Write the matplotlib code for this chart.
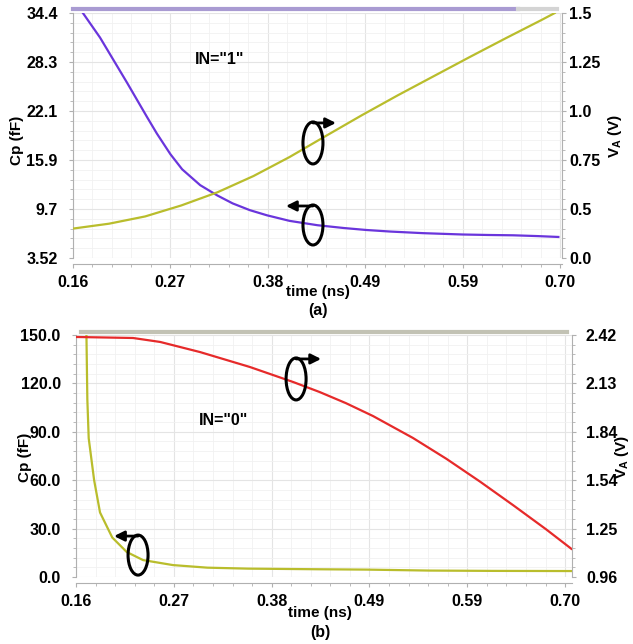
import numpy as np
import matplotlib
matplotlib.use("Agg")
import matplotlib.pyplot as plt
import matplotlib.transforms as mtransforms
from matplotlib.patches import Ellipse
from matplotlib.ticker import AutoMinorLocator

plt.rcParams['font.family'] = ['Liberation Sans', 'DejaVu Sans']
plt.rcParams['font.weight'] = 'bold'

# (a) IN="1"
t_cp_a = [0.171, 0.190, 0.220, 0.242, 0.253, 0.268, 0.281, 0.301, 0.320, 0.337, 0.356, 0.375,
          0.400, 0.431, 0.460, 0.485, 0.512, 0.548, 0.592, 0.620, 0.648, 0.675, 0.698]
cp_a = [34.4, 31.3, 25.6, 21.3, 19.2, 16.6, 14.7, 12.7, 11.4, 10.4, 9.55, 8.9,
        8.2, 7.65, 7.3, 7.05, 6.85, 6.65, 6.48, 6.42, 6.38, 6.28, 6.17]
t_va_a = [0.160, 0.200, 0.240, 0.280, 0.320, 0.360, 0.400, 0.440, 0.480, 0.520,
          0.560, 0.600, 0.640, 0.680, 0.694]
va_a = [0.400, 0.425, 0.462, 0.518, 0.585, 0.668, 0.765, 0.872, 0.978, 1.080,
        1.178, 1.276, 1.372, 1.466, 1.500]

# (b) IN="0"
t_cp_b = [0.1715, 0.1725, 0.174, 0.180, 0.1865, 0.200, 0.216, 0.234, 0.267, 0.305,
          0.350, 0.430, 0.480, 0.550, 0.620, 0.707]
cp_b = [150.0, 110.0, 86.0, 60.0, 40.0, 24.5, 15.5, 10.5, 7.4, 5.8,
        5.2, 4.8, 4.6, 4.0, 3.8, 3.7]
t_va_b = [0.161, 0.223, 0.253, 0.297, 0.352, 0.400, 0.429, 0.458, 0.488, 0.532,
          0.569, 0.606, 0.643, 0.679, 0.707]
va_b = [2.408, 2.402, 2.378, 2.317, 2.227, 2.136, 2.076, 2.009, 1.931, 1.799,
        1.673, 1.536, 1.392, 1.248, 1.130]

x_ticks = [0.16, 0.268, 0.376, 0.484, 0.592, 0.70]
x_labels = ['0.16', '0.27', '0.38', '0.49', '0.59', '0.70']
cp_a_labels = ['3.52', '9.7', '15.9', '22.1', '28.3', '34.4']
va_a_labels = ['0.0', '0.5', '0.75', '1.0', '1.25', '1.5']
cp_b_labels = ['0.0', '30.0', '60.0', '90.0', '120.0', '150.0']
va_b_labels = ['0.96', '1.25', '1.54', '1.84', '2.13', '2.42']

purple = '#6a35dc'
olive = '#b9bd2c'
red = '#e62a2a'

fig = plt.figure(figsize=(6.33, 6.44), dpi=100)
ax_a = fig.add_axes([0.1153, 0.5994, 0.7725, 0.3804])
ax_b = fig.add_axes([0.1201, 0.1040, 0.7836, 0.3758])


def style(ax, ax2, xmax, pad_r):
    for a in (ax, ax2):
        for s in a.spines.values():
            s.set_color('#b0b0b0')
        a.spines['top'].set_visible(False)
    ax2.spines['left'].set_visible(False)
    ax2.spines['bottom'].set_visible(False)
    ax.spines['right'].set_visible(False)
    ax.spines['bottom'].set_position(('outward', 4))
    ax.set_xlim(0.16, xmax)
    ax.set_xticks(x_ticks)
    ax.set_xticklabels(x_labels)
    ax.xaxis.set_minor_locator(AutoMinorLocator(5))
    ax.yaxis.set_minor_locator(AutoMinorLocator(5))
    ax2.yaxis.set_minor_locator(AutoMinorLocator(5))
    ax.grid(which='major', color='#e4e4e4', lw=0.8)
    ax.grid(which='minor', color='#f1f1f1', lw=0.6)
    ax.tick_params(which='both', colors='#b0b0b0', labelcolor='black', labelsize=11.5)
    ax.tick_params(which='major', length=3)
    ax.tick_params(which='minor', length=2)
    ax.tick_params(axis='y', pad=8)
    ax.tick_params(axis='x', pad=5)
    ax2.tick_params(which='both', colors='#b0b0b0', labelcolor='black', labelsize=11.5)
    ax2.tick_params(which='major', length=3, pad=pad_r)
    ax2.tick_params(which='minor', length=2)


def circ_arrow(ax, x, y, w, h, dx):
    tr = fig.dpi_scale_trans + mtransforms.ScaledTranslation(x, y, ax.transData)
    ax.add_patch(Ellipse((0, 0), w, h, transform=tr, fill=False, ec='black',
                         lw=2.2, clip_on=False, zorder=5))
    ax.annotate('', xy=(dx, h / 2 - 0.01), xycoords=tr, xytext=(0.0, h / 2 - 0.01),
                textcoords=tr,
                arrowprops=dict(arrowstyle='-|>', color='black', lw=2,
                                mutation_scale=15, shrinkA=0, shrinkB=0))


# ---- panel (a)
ax2_a = ax_a.twinx()
style(ax_a, ax2_a, 0.702, 2)
ax_a.set_ylim(3.52, 34.4)
ax_a.set_yticks(np.linspace(3.52, 34.4, 6))
ax_a.set_yticklabels(cp_a_labels)
ax2_a.set_ylim(0.25, 1.5)
ax2_a.set_yticks(np.linspace(0.25, 1.5, 6))
ax2_a.set_yticklabels(va_a_labels)
ax_a.plot(t_cp_a, cp_a, color=purple, lw=1.6, zorder=3)
ax2_a.plot(t_va_a, va_a, color=olive, lw=1.6)
ax_a.plot([0.0, 0.91], [1.015, 1.015], transform=ax_a.transAxes,
          color='#a99bd2', lw=3, clip_on=False)
ax_a.plot([0.91, 0.99], [1.015, 1.015], transform=ax_a.transAxes,
          color='#d4d4d4', lw=3, clip_on=False)
ax_a.text(0.323, 28.5, 'IN="1"', ha='center', va='center', fontsize=11.5, fontweight='bold')
circ_arrow(ax2_a, 0.426, 0.837, 0.20, 0.42, 0.23)
circ_arrow(ax_a, 0.426, 7.68, 0.20, 0.40, -0.27)
fig.text(17 / 633, 1 - 140 / 644, 'Cp (fF)', rotation=90, ha='center', va='center',
         fontsize=11, fontweight='bold')
fig.text(615 / 633, 1 - 136 / 644, r'V$_{\mathregular{A}}$ (V)', rotation=90, ha='center',
         va='center', fontsize=11, fontweight='bold')
fig.text(318 / 633, 1 - 292 / 644, 'time (ns)', ha='center', va='center', fontsize=11,
         fontweight='bold')
fig.text(318 / 633, 1 - 310 / 644, '(a)', ha='center', va='center', fontsize=11.5,
         fontweight='bold')

# ---- panel (b)
ax2_b = ax_b.twinx()
style(ax_b, ax2_b, 0.7077, 7)
ax_b.set_ylim(0, 150)
ax_b.set_yticks(np.linspace(0, 150, 6))
ax_b.set_yticklabels(cp_b_labels)
ax2_b.set_ylim(0.96, 2.42)
ax2_b.set_yticks(np.linspace(0.96, 2.42, 6))
ax2_b.set_yticklabels(va_b_labels)
ax_b.plot(t_cp_b, cp_b, color=olive, lw=1.6, zorder=3)
ax2_b.plot(t_va_b, va_b, color=red, lw=1.6)
ax_b.plot([0.01, 0.99], [1.012, 1.012], transform=ax_b.transAxes,
          color='#c2c2b4', lw=3, clip_on=False)
ax_b.text(0.323, 97.3, 'IN="0"', ha='center', va='center', fontsize=11.5, fontweight='bold')
circ_arrow(ax2_b, 0.403, 2.155, 0.20, 0.42, 0.25)
circ_arrow(ax_b, 0.2285, 13.6, 0.20, 0.40, -0.24)
fig.text(25 / 633, 1 - 457 / 644, 'Cp (fF)', rotation=90, ha='center', va='center',
         fontsize=11, fontweight='bold')
fig.text(622 / 633, 1 - 457 / 644, r'V$_{\mathregular{A}}$ (V)', rotation=90, ha='center',
         va='center', fontsize=11, fontweight='bold')
fig.text(320 / 633, 1 - 613 / 644, 'time (ns)', ha='center', va='center', fontsize=11,
         fontweight='bold')
fig.text(320 / 633, 1 - 632 / 644, '(b)', ha='center', va='center', fontsize=11.5,
         fontweight='bold')

fig.savefig('out.png', dpi=100)
